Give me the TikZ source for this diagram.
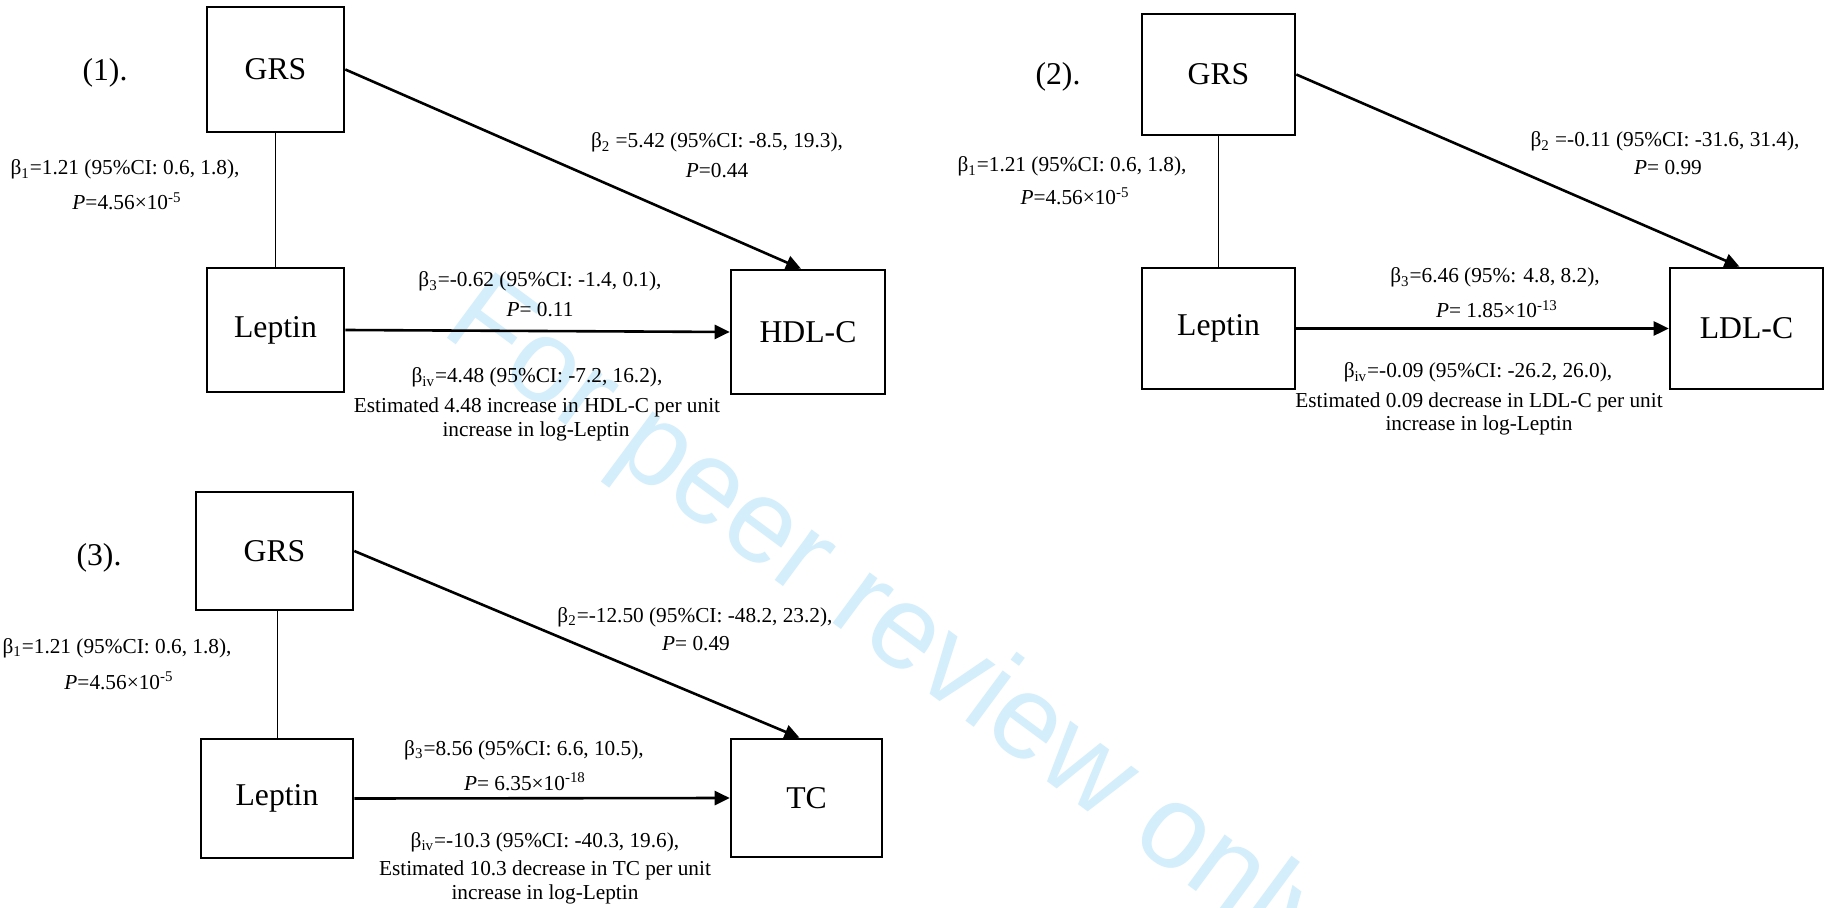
\documentclass[tikz,border=0pt]{standalone}
\usepackage{fontspec}
\setmainfont{Liberation Serif}
\newfontfamily\wmfont{Liberation Sans}
\usetikzlibrary{arrows.meta,calc}
\definecolor{wmblue}{RGB}{212,238,251}
\newcommand\labfont{\fontsize{10.65pt}{12pt}\selectfont}
\newcommand\boxfont{\fontsize{15.85pt}{18pt}\selectfont}
\newcommand\bsub[1]{β\textsubscript{#1}}
\newcommand\pv{\textit{P}}

\begin{document}
\begin{tikzpicture}[x=0.5pt,y=-0.5pt,
  varbox/.style 2 args={draw, line width=1.3pt, inner sep=0pt,
    minimum width=#1, minimum height=#2, font=\boxfont},
  plabel/.style={font=\boxfont, inner sep=0pt},
  lab/.style={font=\labfont, inner sep=0pt, anchor=base},
  conn/.style={line width=1.3pt, -{Triangle[length=7.5pt,width=7pt]}},
  link/.style={line width=0.5pt},
  wm/.style={font=\wmfont\fontsize{59.3pt}{60pt}\selectfont, text=wmblue,
    rotate=-36.5, inner sep=0pt}]

\clip (0,0) rectangle (1829,908);

% watermark behind the diagrams
\node[wm] (wmark) at (890,627) {For peer review only};

% ---------- (1) HDL-C ----------
\node[plabel] (p1) at (105,72.5) {(1).};
\node[varbox={68.5pt}{62.5pt}] (grs1) at (275.5,69.5) {GRS};
\node[varbox={68.5pt}{62pt}] (lep1) at (275.5,330) {Leptin};
\node[varbox={77pt}{62pt}] (hdl) at (808,332) {HDL-C};
\draw[link] (grs1.south) -- (lep1.north);
\draw[conn] (grs1.east) -- ([xshift=-3.5pt]hdl.north);
\draw[conn] (lep1.east) -- (hdl.west);

\node[lab] (a1a) at (125,175) {\bsub{1}=1.21 (95\%CI: 0.6, 1.8),};
\node[lab] (a1b) at (127,210) {\pv=4.56×10\textsuperscript{-5}};
\node[lab] (a2a) at (717,148) {\bsub{2} =5.42 (95\%CI: -8.5, 19.3),};
\node[lab] (a2b) at (717,178) {\pv=0.44};
\node[lab] (a3a) at (540,287) {\bsub{3}=-0.62 (95\%CI: -1.4, 0.1),};
\node[lab] (a3b) at (540,317) {\pv= 0.11};
\node[lab] (a4a) at (537,383) {\bsub{iv}=4.48 (95\%CI: -7.2, 16.2),};
\node[lab] (a4b) at (537,413) {Estimated 4.48 increase in HDL-C per unit};
\node[lab] (a4c) at (536,437) {increase in log-Leptin};

% ---------- (2) LDL-C ----------
\node[plabel] (p2) at (1058,77) {(2).};
\node[varbox={76.5pt}{60.5pt}] (grs2) at (1218.5,74.5) {GRS};
\node[varbox={76.5pt}{60.5pt}] (lep2) at (1218.5,328.5) {Leptin};
\node[varbox={76.5pt}{60.5pt}] (ldl) at (1746.5,328.5) {LDL-C};
\draw[link] (grs2.south) -- (lep2.north);
\draw[conn] (grs2.east) -- ([xshift=-3.5pt]ldl.north);
\draw[conn] (lep2.east) -- (ldl.west);

\node[lab] (b1a) at (1072,172) {\bsub{1}=1.21 (95\%CI: 0.6, 1.8),};
\node[lab] (b1b) at (1075,205) {\pv=4.56×10\textsuperscript{-5}};
\node[lab] (b2a) at (1665,147) {\bsub{2} =-0.11 (95\%CI: -31.6, 31.4),};
\node[lab] (b2b) at (1668,175) {\pv= 0.99};
\node[lab] (b3a) at (1495,283) {\bsub{3}=6.46 (95\%: 4.8, 8.2),};
\node[lab] (b3b) at (1497,318) {\pv= 1.85×10\textsuperscript{-13}};
\node[lab] (b4a) at (1478,378) {\bsub{iv}=-0.09 (95\%CI: -26.2, 26.0),};
\node[lab] (b4b) at (1479,408) {Estimated 0.09 decrease in LDL-C per unit};
\node[lab] (b4c) at (1479,430) {increase in log-Leptin};

% ---------- (3) TC ----------
\node[plabel] (p3) at (99,558) {(3).};
\node[varbox={78.5pt}{59pt}] (grs3) at (274.5,551) {GRS};
\node[varbox={76pt}{59.5pt}] (lep3) at (277,798.5) {Leptin};
\node[varbox={75.5pt}{59pt}] (tc) at (806.5,798) {TC};
\draw[link] (lep3.north) -- (lep3.north |- grs3.south);
\draw[conn] (grs3.east) -- ([xshift=-3.5pt]tc.north);
\draw[conn] (lep3.east) -- (tc.west);

\node[lab] (c1a) at (117,653) {\bsub{1}=1.21 (95\%CI: 0.6, 1.8),};
\node[lab] (c1b) at (119,689) {\pv=4.56×10\textsuperscript{-5}};
\node[lab] (c2a) at (695,622) {\bsub{2}=-12.50 (95\%CI: -48.2, 23.2),};
\node[lab] (c2b) at (696,650) {\pv= 0.49};
\node[lab] (c3a) at (524,755) {\bsub{3}=8.56 (95\%CI: 6.6, 10.5),};
\node[lab] (c3b) at (525,790) {\pv= 6.35×10\textsuperscript{-18}};
\node[lab] (c4a) at (545,847) {\bsub{iv}=-10.3 (95\%CI: -40.3, 19.6),};
\node[lab] (c4b) at (545,875) {Estimated 10.3 decrease in TC per unit};
\node[lab] (c4c) at (545,899) {increase in log-Leptin};
\end{tikzpicture}
\end{document}
